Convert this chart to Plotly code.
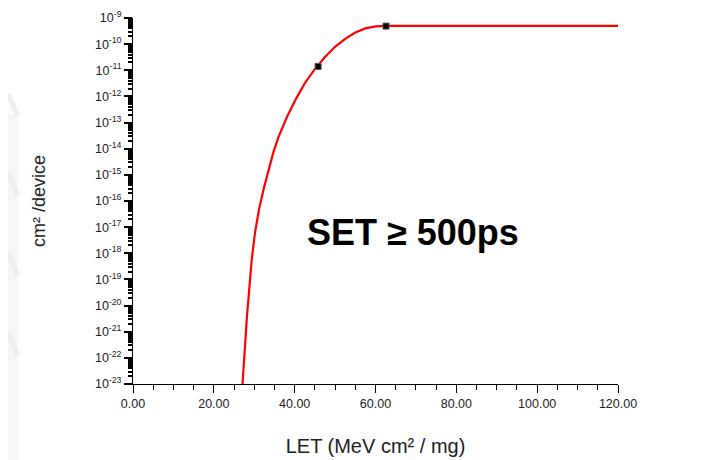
import plotly.graph_objects as go

# Fitted curve
curve_let = [27.1, 27.6, 28.2, 28.8, 29.4, 30.2, 31.2, 32.4, 33.6, 34.8, 36.0, 37.2, 38.2,
             40.3, 42.5, 45.0, 47.5, 50.0, 52.5, 55.0, 57.5, 60.0, 62.5, 120.0]
curve_xs = [1e-23, 2.5e-22, 4.0e-21, 5.0e-20, 6.3e-19, 6.3e-18, 5.0e-17, 3.2e-16,
            1.8e-15, 7.9e-15, 2.8e-14, 7.9e-14, 1.8e-13, 7.9e-13, 3.2e-12, 1.1e-11,
            3.2e-11, 7.9e-11, 1.6e-10, 2.8e-10, 4.0e-10, 4.8e-10, 5.0e-10, 5.0e-10]

# Measured points
data_let = [45.8, 62.6]
data_xs = [1.4e-11, 4.9e-10]

y_tickvals = [10.0 ** e for e in range(-23, -8)]
y_ticktext = [f"10<sup>{e}</sup>" for e in range(-23, -8)]
x_tickvals = [0, 20, 40, 60, 80, 100, 120]
x_ticktext = [f"{v:.2f}" for v in x_tickvals]

fig = go.Figure()
fig.add_trace(go.Scatter(x=curve_let, y=curve_xs, mode="lines",
                         line=dict(color="#ff0000", width=2.2), showlegend=False))
fig.add_trace(go.Scatter(x=data_let, y=data_xs, mode="markers",
                         marker=dict(symbol="square", size=6, color="black",
                                     line=dict(color="#555", width=1)),
                         showlegend=False))

# faint watermark on the left edge
PW, PH = 485, 366
L, B = 125, 84
fig.add_shape(type="rect", xref="paper", yref="paper", x0=-L/PW, x1=-(L-10)/PW,
              y0=-B/PH, y1=270/PH, fillcolor="#f6f6f6", line_width=0, layer="below")
for yy in [290, 210, 130, 50]:
    fig.add_shape(type="line", xref="paper", yref="paper",
                  x0=-L/PW, x1=-(L-10)/PW, y0=yy/PH, y1=(yy - 22)/PH,
                  line=dict(color="#eeeeee", width=5), layer="below")

fig.add_annotation(x=69.3, y=-17.2, text="<b>SET ≥ 500ps</b>", showarrow=False,
                   font=dict(family="Liberation Sans, Arial, sans-serif", size=36, color="black"))

fig.update_layout(
    width=710, height=460,
    margin=dict(l=L, r=710 - L - PW, t=10, b=B),
    paper_bgcolor="white", plot_bgcolor="white",
    font=dict(family="Liberation Sans, Arial, sans-serif", color="#222"),
    xaxis=dict(range=[0, 120], tickvals=x_tickvals, ticktext=x_ticktext, automargin=False,
               showgrid=False, zeroline=False, showline=True, linecolor="black", linewidth=1,
               ticks="outside", ticklen=8, tickcolor="black", tickfont=dict(size=12.5),
               minor=dict(dtick=5, ticks="outside", ticklen=5, tickcolor="black"),
               title=dict(text="LET (MeV cm² / mg)", font=dict(size=20, color="#222"), standoff=28)),
    yaxis=dict(type="log", range=[-23, -9], tickvals=y_tickvals, ticktext=y_ticktext,
               automargin=False,
               showgrid=False, zeroline=False, showline=True, linecolor="black", linewidth=1,
               ticks="outside", ticklen=8, tickcolor="black", tickwidth=2, tickfont=dict(size=12.5),
               minor=dict(ticks="outside", ticklen=4, tickcolor="black", dtick="D1"),
               title=dict(text="cm² /device", font=dict(size=18, color="#222"), standoff=44)),
)

fig.write_html("out.html")
